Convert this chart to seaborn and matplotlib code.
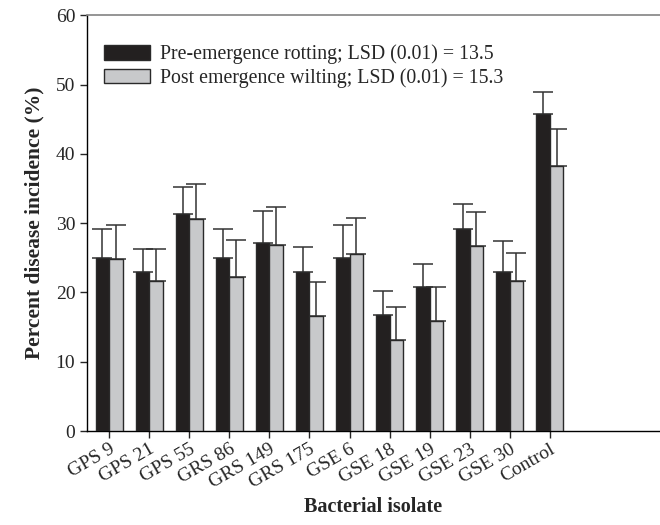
import pandas as pd
import seaborn as sns
import matplotlib.pyplot as plt

# --- data ---
isolates = ['GPS 9', 'GPS 21', 'GPS 55', 'GRS 86', 'GRS 149', 'GRS 175',
            'GSE 6', 'GSE 18', 'GSE 19', 'GSE 23', 'GSE 30', 'Control']
pre_rotting = [25.0, 22.9, 31.3, 25.0, 27.1, 22.9, 25.0, 16.7, 20.8, 29.2, 22.9, 45.8]
pre_err = [4.2, 3.4, 3.9, 4.1, 4.7, 3.6, 4.7, 3.5, 3.3, 3.5, 4.5, 3.1]
post_wilting = [24.8, 21.6, 30.6, 22.2, 26.8, 16.6, 25.5, 13.1, 15.9, 26.7, 21.6, 38.3]
post_err = [4.9, 4.6, 5.1, 5.3, 5.5, 4.9, 5.2, 4.8, 4.9, 4.9, 4.1, 5.3]

series_names = ['Pre-emergence rotting; LSD (0.01) = 13.5',
                'Post emergence wilting; LSD (0.01) = 15.3']

df = pd.DataFrame({'Isolate': isolates * 2,
                   'Incidence': pre_rotting + post_wilting,
                   'Err': pre_err + post_err,
                   'Series': [series_names[0]] * 12 + [series_names[1]] * 12})

sns.set_theme(style="ticks")
plt.rcParams['font.family'] = ['Liberation Serif', 'DejaVu Serif']

fig = plt.figure(figsize=(6.6, 5.25), dpi=100)
ax = fig.add_axes([0.132, 0.179, 0.868, 0.792])

sns.barplot(data=df, x='Isolate', y='Incidence', hue='Series',
            palette=['#231f20', '#c8c9cb'], width=0.67, errorbar=None,
            edgecolor='#2a2a2a', linewidth=1.0, ax=ax, zorder=3)

# one-sided (upward) error bars on each bar
for container, errs in zip(ax.containers, [pre_err, post_err]):
    for bar, e in zip(container, errs):
        xc = bar.get_x() + bar.get_width() / 2
        h = bar.get_height()
        ax.errorbar(xc, h, yerr=[[0], [e]], fmt='none', ecolor='#333333',
                    elinewidth=1.1, capsize=7, capthick=1.1, zorder=2)

ax.set_ylim(0, 60)
ax.set_xlim(-0.55, 13.75)
ax.set_yticks(range(0, 61, 10))
ax.tick_params(axis='y', labelsize=14, length=5, width=1, direction='out')
ax.tick_params(axis='x', labelsize=14, length=5, width=1, direction='out', pad=2)
plt.setp(ax.get_xticklabels(), rotation=30, ha='right', rotation_mode='anchor')

ax.set_ylabel('Percent disease incidence (%)', fontsize=15.5, weight='bold', labelpad=8)
ax.set_xlabel('Bacterial isolate', fontsize=14.5, weight='bold', labelpad=4)

sns.despine(ax=ax, top=False, right=True)
ax.spines['top'].set_color('#888888')
for s in ['left', 'bottom']:
    ax.spines[s].set_color('black')
    ax.spines[s].set_linewidth(1.0)

leg = ax.legend(loc='upper left', bbox_to_anchor=(-0.005, 0.977), frameon=False,
                fontsize=14.3, handlelength=2.3, handleheight=0.75,
                handletextpad=0.5, labelspacing=0.2, borderaxespad=0.6)

fig.savefig('out.png', dpi=100)
